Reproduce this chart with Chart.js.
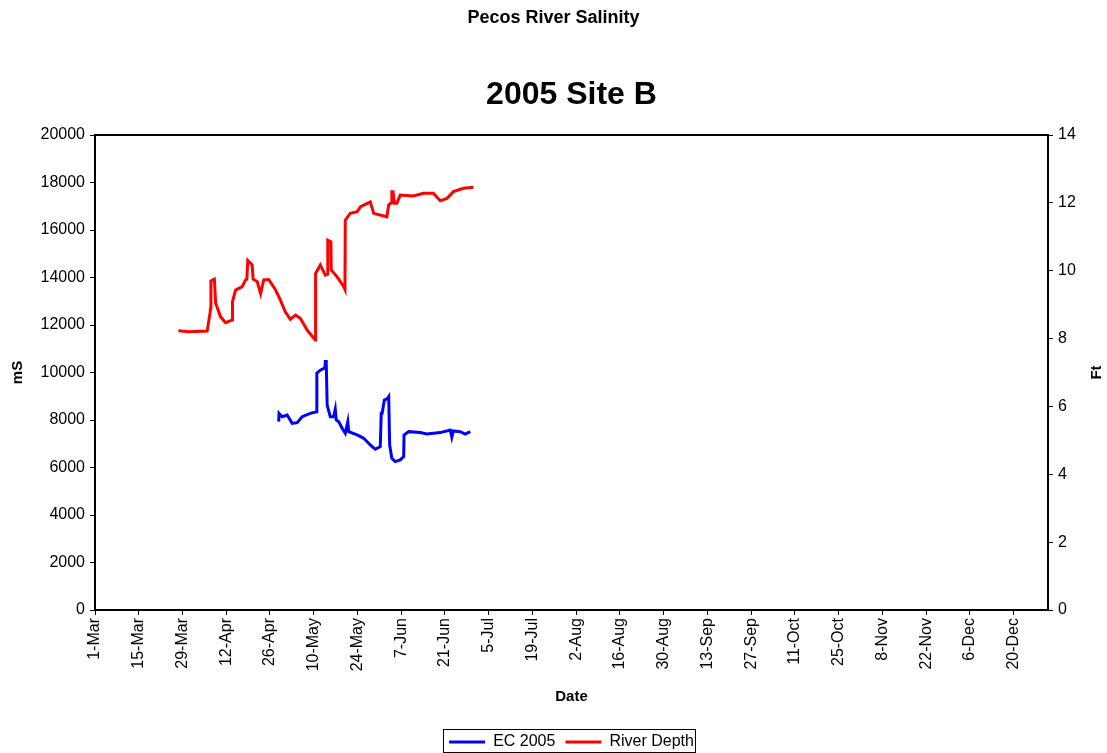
<!DOCTYPE html>
<html>
<head>
<meta charset="utf-8">
<script src="https://cdn.jsdelivr.net/npm/chart.js"></script>
<style>
  body { margin: 0; background: #fff; }
  #wrap { width: 1107px; height: 753px; position: relative; }
</style>
</head>
<body>
<div id="wrap"><canvas id="salinityChart"></canvas></div>
<script>
// days counted from 1-Mar
const tickDays = [0, 14, 28, 42, 56, 70, 84, 98, 112, 126, 140, 154, 168, 182, 196, 210, 224, 238, 252, 266, 280, 294];
const tickLabels = ['1-Mar', '15-Mar', '29-Mar', '12-Apr', '26-Apr', '10-May', '24-May', '7-Jun', '21-Jun', '5-Jul', '19-Jul',
  '2-Aug', '16-Aug', '30-Aug', '13-Sep', '27-Sep', '11-Oct', '25-Oct', '8-Nov', '22-Nov', '6-Dec', '20-Dec'];

// EC 2005 (mS)
const ecDays = [58.8, 58.9, 59.9, 61.5, 63.1, 64.7, 66.3, 68.9, 70.9, 71.0, 72.1, 73.6, 73.7, 74.0, 74.3, 75.3, 76.4, 76.9, 77.2, 78.0, 79.1,
  80.1, 80.9, 81.2, 83.9, 86.0, 88.1, 89.7, 91.3, 91.6, 91.9, 92.6, 93.6, 94.0, 94.3, 95.0, 96.1, 97.7, 98.8, 98.9, 100.4,
  104.1, 106.2, 110.5, 113.7, 114.2, 114.7, 116.9, 118.5, 120.1];
const ecValues = [7930, 8280, 8140, 8210, 7860, 7890, 8140, 8280, 8350, 9970, 10100, 10200, 10460, 10460, 8630, 8140, 8140, 8450, 8000, 7930, 7650,
  7440, 7930, 7510, 7370, 7230, 6950, 6770, 6880, 8280, 8280, 8840, 8900, 8980, 6950, 6390, 6250, 6320, 6460, 7370, 7510,
  7470, 7410, 7470, 7580, 7270, 7540, 7510, 7410, 7510];

// River Depth (ft)
const depthDays = [26.7, 30, 35.9, 36.8, 37.0, 37.1, 38.2, 38.6, 40.2, 41.8, 43.9, 44.0, 45.0, 47.1, 48.2, 48.6, 48.9, 50.3, 50.6, 51.9,
  53.0, 54.0, 55.6, 57.8, 59.3, 60.9, 62.5, 64.2, 65.7, 67.9, 70.5, 70.6, 72.1, 73.7, 74.4, 74.5, 75.5, 75.6, 77.5, 79.6,
  80.0, 80.1, 81.7, 83.9, 85.0, 88.1, 89.2, 93.4, 94.0, 94.8, 95.0, 95.4, 95.8, 96.6, 97.7, 101.9, 105.1, 108.3, 110.5, 112.6,
  114.7, 117.9, 121.1];
const depthValues = [8.23, 8.2, 8.22, 8.75, 8.9, 9.7, 9.75, 9.05, 8.64, 8.47, 8.55, 9.09, 9.43, 9.53, 9.73, 9.75, 10.3, 10.17, 9.75, 9.68,
  9.33, 9.73, 9.74, 9.43, 9.14, 8.79, 8.57, 8.69, 8.6, 8.25, 7.96, 9.92, 10.17, 9.87, 9.9, 10.9, 10.85, 10.02, 9.82, 9.53,
  9.45, 11.49, 11.69, 11.74, 11.89, 12.03, 11.69, 11.59, 11.94, 12.0, 12.33, 12.33, 11.99, 11.99, 12.23, 12.2, 12.28, 12.28, 12.06, 12.13,
  12.33, 12.43, 12.46];

const FONT = 'Arial, "Liberation Sans", sans-serif';
const SUBTITLE = '2005 Site B';

// black frame round the plot area, a box round the legend items, right axis title
const frame = {
  id: 'frame',
  afterLayout(chart) {
    // subtitle and legend sit centred over the plot area, not the canvas
    const shift = (chart.chartArea.left + chart.chartArea.right) / 2 - chart.width / 2;
    chart.boxes.forEach(b => {
      if (b === chart.legend || (b.options && b.options.text === SUBTITLE)) {
        b.left += shift;
        b.right += shift;
      }
    });
  },
  afterDraw(chart) {
    const { ctx, chartArea: a } = chart;
    ctx.save();
    ctx.strokeStyle = '#000';
    ctx.lineWidth = 2;
    ctx.strokeRect(a.left, a.top, a.right - a.left, a.bottom - a.top);
    const boxes = chart.legend.legendHitBoxes;
    if (boxes && boxes.length) {
      const l = Math.min(...boxes.map(b => b.left)) - 6;
      const r = Math.max(...boxes.map(b => b.left + b.width)) + 1;
      const t = Math.min(...boxes.map(b => b.top)) - 5;
      const bt = Math.max(...boxes.map(b => b.top + b.height)) + 2;
      ctx.lineWidth = 1;
      ctx.strokeRect(Math.round(l) + 0.5, Math.round(t) + 0.5, Math.round(r - l), Math.round(bt - t));
    }
    ctx.translate(1097, (a.top + a.bottom) / 2);
    ctx.rotate(-Math.PI / 2);
    ctx.fillStyle = '#000';
    ctx.font = 'bold 15px ' + FONT;
    ctx.textAlign = 'center';
    ctx.textBaseline = 'middle';
    ctx.fillText('Ft', 0, 0);
    ctx.restore();
  }
};

const ctx = document.getElementById('salinityChart').getContext('2d');

new Chart(ctx, {
  type: 'line',
  data: {
    datasets: [{
      label: 'EC 2005',
      data: ecDays.map((d, i) => ({ x: d, y: ecValues[i] })),
      borderColor: '#0000ff',
      backgroundColor: '#0000ff',
      borderWidth: 3,
      pointRadius: 0,
      tension: 0,
      yAxisID: 'y'
    }, {
      label: 'River Depth',
      data: depthDays.map((d, i) => ({ x: d, y: depthValues[i] })),
      borderColor: '#ff0000',
      backgroundColor: '#ff0000',
      borderWidth: 3,
      pointRadius: 0,
      tension: 0,
      yAxisID: 'y1'
    }]
  },
  options: {
    responsive: true,
    maintainAspectRatio: false,
    animation: false,
    layout: { padding: { left: 0, right: 0, top: 7, bottom: -7 } },
    scales: {
      x: {
        type: 'linear',
        min: 0,
        max: 305,
        afterBuildTicks: axis => { axis.ticks = tickDays.map(v => ({ value: v })); },
        afterFit: axis => { axis.height = 114; },
        ticks: {
          minRotation: 90,
          maxRotation: 90,
          padding: 3,
          color: '#000',
          font: { family: FONT, size: 16 },
          callback: v => tickLabels[tickDays.indexOf(v)]
        },
        grid: { drawOnChartArea: false, color: '#000', tickLength: 5 },
        border: { color: '#000', width: 2 },
        title: { display: true, text: 'Date', color: '#000', font: { family: FONT, size: 15, weight: 'bold' }, padding: { top: 0, bottom: 18 } }
      },
      y: {
        position: 'left',
        min: 0,
        max: 20000,
        afterFit: axis => { axis.width = 95; },
        ticks: { stepSize: 2000, padding: 5, color: '#000', font: { family: FONT, size: 16 }, callback: v => String(v) },
        grid: { drawOnChartArea: false, color: '#000', tickLength: 5 },
        border: { color: '#000', width: 2 },
        title: { display: true, text: 'mS', color: '#000', font: { family: FONT, size: 15, weight: 'bold' }, padding: { top: 9, bottom: 4 } }
      },
      y1: {
        position: 'right',
        min: 0,
        max: 14,
        afterFit: axis => { axis.width = 59; },
        ticks: { stepSize: 2, padding: 5, color: '#000', font: { family: FONT, size: 16 } },
        grid: { drawOnChartArea: false, color: '#000', tickLength: 5 },
        border: { color: '#000', width: 2 },
        title: { display: false }
      }
    },
    plugins: {
      title: {
        display: true,
        text: 'Pecos River Salinity',
        color: '#000',
        font: { family: FONT, size: 18, weight: 'bold' },
        padding: { top: 0, bottom: 47 }
      },
      subtitle: {
        display: true,
        text: SUBTITLE,
        color: '#000',
        font: { family: FONT, size: 32, weight: 'bold' },
        padding: { top: 0, bottom: 21 }
      },
      legend: {
        position: 'bottom',
        labels: {
          color: '#000',
          font: { family: FONT, size: 16 },
          boxWidth: 36,
          boxHeight: 3,
          padding: 10,
          generateLabels: chart => Chart.defaults.plugins.legend.labels.generateLabels(chart)
            .map(item => Object.assign(item, { lineWidth: 0 }))
        }
      },
      tooltip: { enabled: false }
    }
  },
  plugins: [frame]
});
</script>
</body>
</html>
